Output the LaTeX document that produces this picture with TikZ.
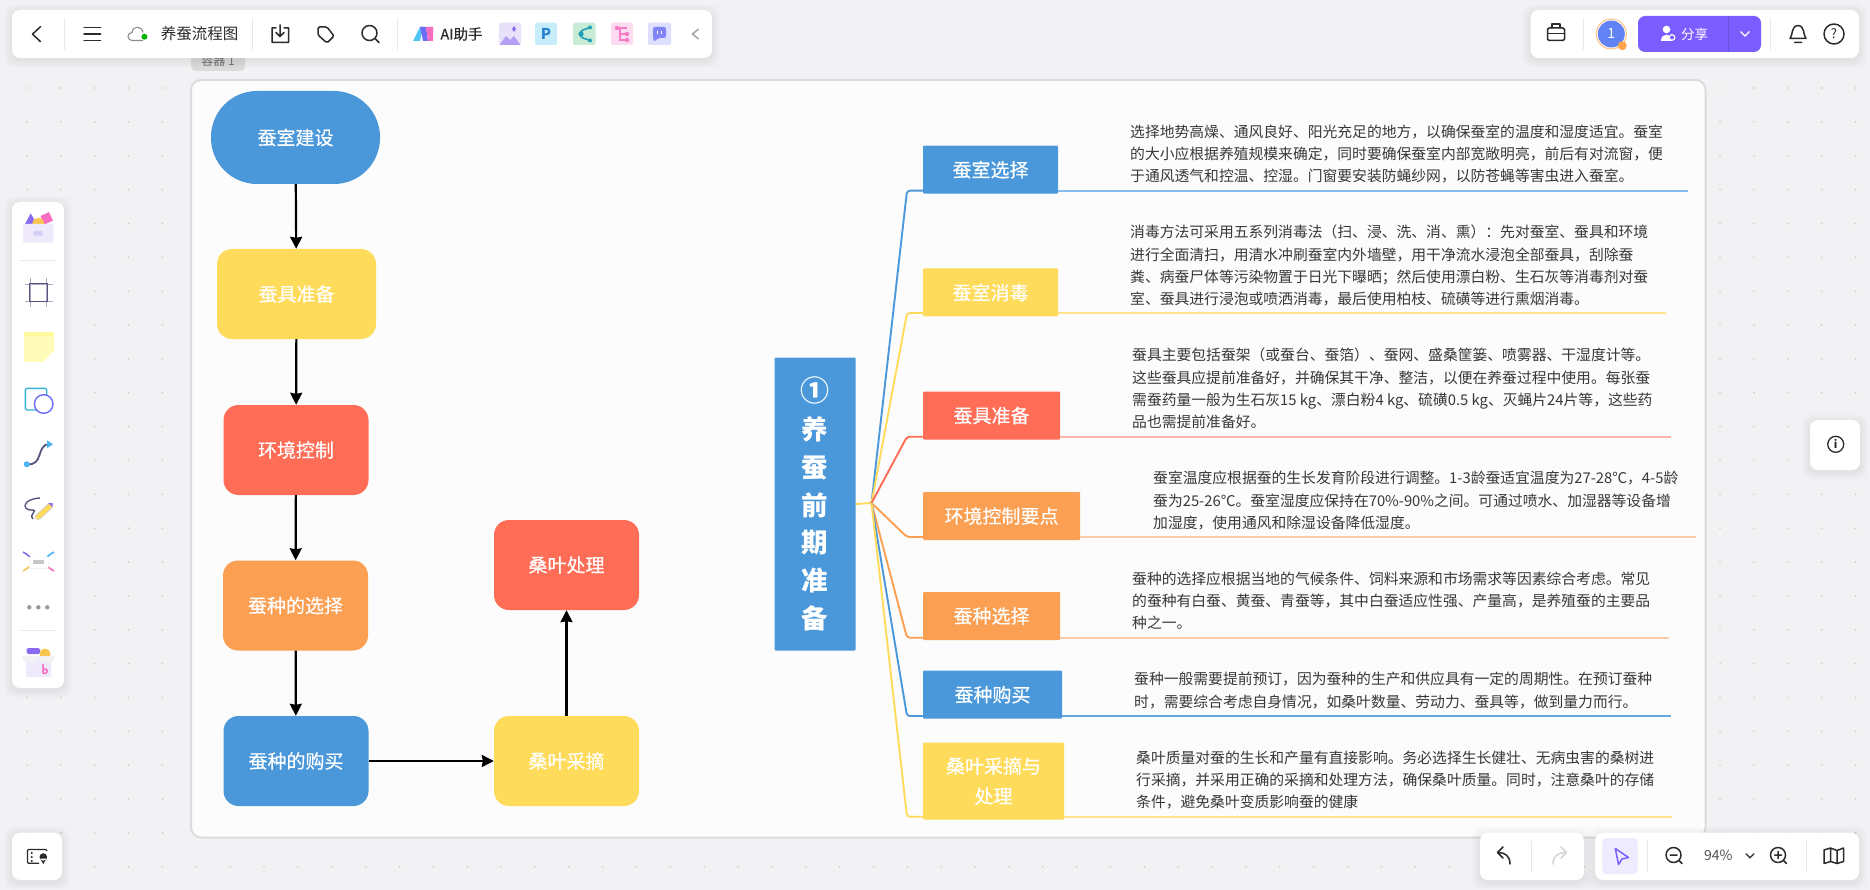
\documentclass[tikz,border=0pt]{standalone}
\usepackage{fontspec}
\setmainfont{Noto Sans CJK SC}
\newfontfamily\medfont[FakeBold=0.35]{Noto Sans CJK SC}
\usetikzlibrary{arrows.meta}
\definecolor{sblue}{HTML}{4A98DA}
\definecolor{syellow}{HTML}{FFDB5C}
\definecolor{sred}{HTML}{FF6D56}
\definecolor{sorange}{HTML}{FB9F53}
\definecolor{lblue}{HTML}{86BDEC}
\definecolor{lyellow}{HTML}{FFE38A}
\definecolor{lred}{HTML}{FFB5A9}
\definecolor{lorange}{HTML}{FDCBA5}
\definecolor{canvas}{HTML}{F2F2F4}
\definecolor{rim}{HTML}{DCDCDE}
\definecolor{sep}{HTML}{E8E8EA}
\definecolor{ink}{HTML}{2B2B2B}
\definecolor{share}{HTML}{7A5CFF}
\definecolor{lilac}{HTML}{8B6CF0}
\definecolor{lilacbox}{HTML}{EEEAFB}
\definecolor{lilacslot}{HTML}{D6CFF5}
\definecolor{rose}{HTML}{F56CC0}
\definecolor{gold}{HTML}{F8C54E}
\definecolor{slate}{HTML}{55557D}
\definecolor{mist}{HTML}{A9A9C6}
\definecolor{skyline}{HTML}{38B2D8}
\definecolor{ringblue}{HTML}{6B6EF5}
\definecolor{dotblue}{HTML}{4AB4F5}
\tikzset{
	flowbox/.style={rectangle, rounded corners=15, inner sep=0, text=white, font=\medfont\fontsize{19}{23}\selectfont},
	branch/.style={rectangle, rounded corners=1, inner sep=0, text=white, font=\medfont\fontsize{19}{30}\selectfont, align=center, minimum height=48},
	para/.style={anchor=west, inner sep=0, align=left, text=black!78, font=\fontsize{14.8}{22.3}\selectfont},
	flowline/.style={line width=2.2, -{Stealth[length=12,width=12,inset=1]}},
	fan/.style={line width=1.9, rounded corners=3},
	under/.style={line width=1.9},
	icon/.style={draw=ink, line width=1.5, line join=round, line cap=round},
	divide/.style={draw=sep, line width=1},
	tile/.style={rounded corners=2},
}
\newcommand{\softpanel}[5]{
	\foreach \g in {1,...,8}{
		\fill[black, opacity=.007, rounded corners=10] (#1-\g,#2-\g+2) rectangle (#3+\g,#4+\g+2);
	}
	\fill[white, rounded corners=#5] (#1,#2) rectangle (#3,#4);
}
\begin{document}
\begin{tikzpicture}[x=1pt,y=-1pt]
	\useasboundingbox (0,0) rectangle (1870,890);
	\fill[canvas] (0,0) rectangle (1870,890);
	\foreach \i in {0,...,54}{
		\foreach \j in {0,...,23}{
			\fill[black!20] (27+33.86*\i,88+33.86*\j) circle[radius=0.9];
		}
	}

	% container
	\fill[black!14, rounded corners=5] (191,50) rectangle (245,71);
	\node[text=black!55, font=\fontsize{12}{14}\selectfont, inner sep=0] (boxlabel) at (218,61) {容器 1};
	\draw[rim, fill=white!99!black, line width=2, rounded corners=10] (191,80) rectangle (1705.5,837.5);

	% flow chart
	\node[flowbox, rounded corners=46, fill=sblue, minimum width=169, minimum height=93] (build) at (295.5,137.5) {蚕室建设};
	\node[flowbox, fill=syellow, minimum width=159, minimum height=90] (tools) at (296.5,294) {蚕具准备};
	\node[flowbox, fill=sred, minimum width=145, minimum height=90] (climate) at (296,450) {环境控制};
	\node[flowbox, fill=sorange, minimum width=145, minimum height=90] (seedpick) at (295.5,605.5) {蚕种的选择};
	\node[flowbox, fill=sblue, minimum width=145, minimum height=90] (seedbuy) at (296,761) {蚕种的购买};
	\node[flowbox, fill=syellow, minimum width=145, minimum height=90] (pluck) at (566.5,761) {桑叶采摘};
	\node[flowbox, fill=sred, minimum width=145, minimum height=90] (treat) at (566.5,565) {桑叶处理};
	\draw[flowline] (build) -- (tools);
	\draw[flowline] (tools) -- (climate);
	\draw[flowline] (climate) -- (seedpick);
	\draw[flowline] (seedpick) -- (seedbuy);
	\draw[flowline] (seedbuy) -- (pluck);
	\draw[flowline] (pluck) -- (treat);

	% mind map
	\node[rectangle, rounded corners=1, fill=sblue, inner sep=0, minimum width=81, minimum height=293, text=white, align=center, font=\fontsize{26.5}{37.8}\bfseries\selectfont] (root) at (815,504) {\fontsize{29}{37.8}\selectfont ①\\养\\蚕\\前\\期\\准\\备};
	\coordinate (hub) at (871.5,503);
	\node[branch, fill=sblue, minimum width=135] (b1) at (990.5,169.7) {蚕室选择};
	\node[branch, fill=syellow, minimum width=135] (b2) at (990.5,292.5) {蚕室消毒};
	\node[branch, fill=sred, minimum width=137] (b3) at (991.5,415.5) {蚕具准备};
	\node[branch, fill=sorange, minimum width=157] (b4) at (1001.5,516) {环境控制要点};
	\node[branch, fill=sorange, minimum width=137] (b5) at (991.5,616) {蚕种选择};
	\node[branch, fill=sblue, minimum width=139] (b6) at (992.5,694.7) {蚕种购买};
	\node[branch, fill=syellow, minimum width=141, minimum height=77] (b7) at (993.5,781) {桑叶采摘与\\处理};
	\coordinate (u1) at (1688,190.7);
	\coordinate (u2) at (1666,313);
	\coordinate (u3) at (1671,436.7);
	\coordinate (u4) at (1696,537);
	\coordinate (u5) at (1669,637.7);
	\coordinate (u6) at (1670.5,716);
	\coordinate (u7) at (1672,816.7);
	\draw[fan, syellow] (root.east) -- (hub);
	\draw[fan, sblue] (hub) -- (907,190.7) -- (b1.west |- u1);
	\draw[fan, syellow] (hub) -- (907,313) -- (b2.west |- u2);
	\draw[fan, sred] (hub) -- (907,436.7) -- (b3.west |- u3);
	\draw[fan, sorange] (hub) -- (907,537) -- (b4.west |- u4);
	\draw[fan, sorange] (hub) -- (907,637.7) -- (b5.west |- u5);
	\draw[fan, sblue] (hub) -- (907,716) -- (b6.west |- u6);
	\draw[fan, syellow] (hub) -- (907,816.7) -- (b7.west |- u7);
	\draw[under, lblue] (b1.east |- u1) -- (u1);
	\draw[under, lyellow] (b2.east |- u2) -- (u2);
	\draw[under, lred] (b3.east |- u3) -- (u3);
	\draw[under, lorange] (b4.east |- u4) -- (u4);
	\draw[under, lorange] (b5.east |- u5) -- (u5);
	\draw[under, sblue!85!white] (b6.east |- u6) -- (u6);
	\draw[under, lyellow] (b7.east |- u7) -- (u7);

	\node[para] (t1) at (1130,154) {选择地势高燥、通风良好、阳光充足的地方，以确保蚕室的温度和湿度适宜。蚕室\\的大小应根据养殖规模来确定，同时要确保蚕室内部宽敞明亮，前后有对流窗，便\\于通风透气和控温、控湿。门窗要安装防蝇纱网，以防苍蝇等害虫进入蚕室。};
	\node[para] (t2) at (1130,265.8) {消毒方法可采用五系列消毒法（扫、浸、洗、消、熏）：先对蚕室、蚕具和环境\\进行全面清扫，用清水冲刷蚕室内外墙壁，用干净流水浸泡全部蚕具，刮除蚕\\粪、病蚕尸体等污染物置于日光下曝晒；然后使用漂白粉、生石灰等消毒剂对蚕\\室、蚕具进行浸泡或喷洒消毒，最后使用柏枝、硫磺等进行熏烟消毒。};
	\node[para] (t3) at (1132,388.5) {蚕具主要包括蚕架（或蚕台、蚕箔）、蚕网、盛桑筐篓、喷雾器、干湿度计等。\\这些蚕具应提前准备好，并确保其干净、整洁，以便在养蚕过程中使用。每张蚕\\需蚕药量一般为生石灰15 kg、漂白粉4 kg、硫磺0.5 kg、灭蝇片24片等，这些药\\品也需提前准备好。};
	\node[para] (t4) at (1153,500.7) {蚕室温度应根据蚕的生长发育阶段进行调整。1-3龄蚕适宜温度为27-28℃，4-5龄\\蚕为25-26℃。蚕室湿度应保持在70\%-90\%之间。可通过喷水、加湿器等设备增\\加湿度，使用通风和除湿设备降低湿度。};
	\node[para] (t5) at (1132,600.7) {蚕种的选择应根据当地的气候条件、饲料来源和市场需求等因素综合考虑。常见\\的蚕种有白蚕、黄蚕、青蚕等，其中白蚕适应性强、产量高，是养殖蚕的主要品\\种之一。};
	\node[para] (t6) at (1134,690.5) {蚕种一般需要提前预订，因为蚕种的生产和供应具有一定的周期性。在预订蚕种\\时，需要综合考虑自身情况，如桑叶数量、劳动力、蚕具等，做到量力而行。};
	\node[para] (t7) at (1136,780) {桑叶质量对蚕的生长和产量有直接影响。务必选择生长健壮、无病虫害的桑树进\\行采摘，并采用正确的采摘和处理方法，确保桑叶质量。同时，注意桑叶的存储\\条件，避免桑叶变质影响蚕的健康};

	% top bar, left part
	\softpanel{12}{10}{712}{58}{8}
	\draw[icon] (40.5,26.7) -- (32.5,34.2) -- (40.5,41.7);
	\draw[divide] (64.7,18) -- (64.7,50);
	\draw[icon] (84,27.7) -- (100.5,27.7) (84,34) -- (100.5,34) (84,40.7) -- (100.5,40.7);
	\draw[black!45, line width=1.1] (143,40.5) -- (133,40.5) .. controls (126.5,40.5) and (126.5,33) .. (132,32.5) .. controls (133,25) and (142,26) .. (143,32.5);
	\fill[green!70!black] (144.4,36.7) circle[radius=3];
	\node[text=ink, inner sep=0, font=\fontsize{15.5}{18}\selectfont] (title) at (199.5,33.5) {养蚕流程图};
	\draw[divide] (252.5,18) -- (252.5,50);
	\draw[icon] (276,28) -- (272,28) -- (272,42.5) -- (288.5,42.5) -- (288.5,28) -- (284,28) (280,25) -- (280,36.5) (276,32.5) -- (280,36.5) -- (284,32.5);
	\draw[icon, rounded corners=1.5] (318,27) -- (327,27) -- (334,36) -- (327,43) -- (318,35) -- cycle;
	\draw[icon] (369.5,33) circle[radius=7.5] (375,38.5) -- (379,42.5);
	\draw[divide] (397,18) -- (397,50);
	\fill[cyan!70!white] (413,41) -- (420,27) -- (423,27) -- (420,41) -- cycle;
	\fill[ringblue] (420,27) -- (426,27) -- (428,41) -- (423,41) -- cycle;
	\fill[rose] (426,27) -- (433,27) -- (433,41) -- (428,41) -- cycle;
	\node[text=ink, inner sep=0, font=\medfont\fontsize{14.5}{18}\selectfont] (aihelp) at (461.5,34) {AI助手};
	\fill[tile, lilacbox!70!lilacslot] (499,22.7) rectangle (521,45);
	\fill[lilac!65!white] (499.5,45) -- (506,36) -- (510,40) -- (514,36) -- (520.5,45) -- cycle;
	\fill[lilac] (514,26) -- (516,29) -- (514,32) -- (512,29) -- cycle;
	\fill[tile, cyan!22!white] (535,22.7) rectangle (557,45);
	\node[text=cyan!60!blue!90!white, inner sep=0, font=\fontsize{15}{18}\bfseries\selectfont] (ptile) at (546,34) {P};
	\fill[tile, cyan!25!green!22!white] (573,22.7) rectangle (595.5,45);
	\draw[cyan!80!green!85!black, line width=1.6] (590,27.5) -- (583,30) .. controls (579,32) and (579,36) .. (583,38) -- (590,40.5);
	\fill[cyan!80!green!85!black] (581,34) circle[radius=2.6] (590,27.5) circle[radius=2] (590,40.5) circle[radius=2];
	\fill[tile, rose!25!white] (611,22.7) rectangle (633,45);
	\draw[rose!90!white, line width=1.2] (617,28) -- (627,28) (620,28) -- (620,40) -- (627,40) (620,34) -- (627,34);
	\fill[rose!90!white] (617,28) circle[radius=2.2] (627,34) circle[radius=2.2] (627,40) circle[radius=2.2];
	\fill[tile, ringblue!22!white] (648,22.7) rectangle (671,45);
	\fill[ringblue!85!white, rounded corners=2] (653,27) -- (666,27) -- (666,38) -- (658,38) -- (654,42) -- (653,38) -- cycle;
	\draw[white, line width=1.2] (657.5,31) -- (657.5,34) (661.5,31) -- (661.5,34);
	\draw[black!40, line width=1.3] (698.5,29) -- (692.5,34) -- (698.5,39);

	% top bar, right part
	\softpanel{1530.7}{10}{1859}{58}{8}
	\draw[icon, rounded corners=1.5] (1547.5,28) rectangle (1564.5,40.5);
	\draw[icon] (1547.5,33.5) -- (1564.5,33.5) (1552,28) -- (1552,24) -- (1560,24) -- (1560,28);
	\draw[divide] (1583.3,18) -- (1583.3,50);
	\fill[ringblue!70!dotblue] (1611.3,34) circle[radius=13.5];
	\draw[orange!50!white, line width=1] (1611.3,34) circle[radius=15];
	\node[text=white, inner sep=0, font=\fontsize{14}{16}\selectfont] (badge) at (1611.3,34) {1};
	\fill[orange!70!white] (1622.3,45.7) circle[radius=4.5];
	\fill[share, rounded corners=7] (1638,16) rectangle (1761,52);
	\draw[black!12!share, line width=.8] (1728.3,16) -- (1728.3,52);
	\fill[white] (1666.5,29.5) circle[radius=3.8] (1661,41) .. controls (1661,32.5) and (1672,32.5) .. (1672,41) -- cycle;
	\draw[white, fill=share, line width=1.2] (1672,37.5) circle[radius=2.8];
	\node[text=white, inner sep=0, font=\fontsize{13.5}{16}\selectfont] (sharetext) at (1694.7,34) {分享};
	\draw[white, line width=1.3] (1740.5,31.5) -- (1745,36) -- (1749.5,31.5);
	\draw[divide] (1770.3,18) -- (1770.3,50);
	\draw[icon] (1790,38.5) .. controls (1793,35) and (1791,26) .. (1798,25.5) .. controls (1805,26) and (1803,35) .. (1806,38.5) -- cycle (1794.5,42.5) -- (1801.5,42.5);
	\draw[icon] (1834,34) circle[radius=10];
	\node[text=ink, inner sep=0, font=\fontsize{13}{15}\selectfont] (helpmark) at (1834,34) {?};

	% left bar
	\softpanel{12}{202}{64}{688}{8}
	\fill[lilac] (30.7,213.3) -- (38,226) -- (24,226) -- cycle;
	\fill[rose, rotate around={25:(46.7,218.3)}] (42,213.6) rectangle (51.4,223);
	\fill[gold] (38.3,224) circle[radius=6];
	\fill[lilacbox, rounded corners=2] (23,224) rectangle (53.3,242.7);
	\fill[lilacslot, rounded corners=1] (33.3,231) rectangle (42.7,235.7);
	\draw[divide] (20,260.7) -- (56,260.7);
	\draw[mist, line width=1.3] (30.3,278.3) -- (30.3,306.7) (46.3,278.3) -- (46.3,306.7) (25,284.3) -- (52.7,284.3) (25,301.7) -- (52.7,301.7);
	\draw[slate, line width=1.6] (29.5,283.5) rectangle (47.5,301.5);
	\fill[yellow!28!white] (23.5,332) rectangle (53.5,361.5);
	\fill[yellow!40!white] (23.5,332) rectangle (53.5,336.5);
	\fill[white] (53.8,351) -- (43.5,361.8) -- (53.8,361.8) -- cycle;
	\draw[skyline, line width=1.4, rounded corners=1.5] (25.3,388.3) rectangle (46.7,410);
	\draw[ringblue, fill=white, line width=1.4] (43.7,404) circle[radius=9.3];
	\draw[slate, line width=1.8] (26.7,464.3) .. controls (44,466) and (36,445) .. (49,444);
	\fill[dotblue] (26.7,464.3) circle[radius=3] (47,440.3) -- (53,444.3) -- (47,448.3) -- cycle;
	\draw[slate, line width=1.4] (40,498) .. controls (22,499) and (22,510) .. (31,510) .. controls (40,510) and (28,514) .. (33,519);
	\draw[black!20, line width=6, line cap=round] (38,517) -- (50,506);
	\draw[syellow, line width=4.4, line cap=round] (38,517) -- (50,506);
	\fill[lilac] (48,503) -- (52.5,503) -- (52.5,507) -- cycle;
	\draw[lilac, line width=1.6] (23,552) .. controls (25,553) and (28,555) .. (30,557);
	\draw[dotblue, line width=1.6] (54,552) .. controls (52,553) and (49,555) .. (47,557);
	\draw[gold, line width=1.6] (23,571) .. controls (25,570) and (28,568) .. (30,566);
	\draw[rose, line width=1.6] (54,571) .. controls (52,570) and (49,568) .. (47,566);
	\fill[black!5, rounded corners=2] (29,556.5) rectangle (48.7,569);
	\fill[white, rounded corners=2] (29.5,556.5) rectangle (48.2,568);
	\fill[black!22] (33.3,560) rectangle (44.3,564.3);
	\fill[black!40] (29.3,607.3) circle[radius=2.2] (38.3,607.3) circle[radius=2.2] (47.3,607.3) circle[radius=2.2];
	\draw[divide] (20,630) -- (56,630);
	\fill[lilac, rounded corners=1.5] (26.7,648) rectangle (40,654);
	\fill[gold] (45,654) circle[radius=5.5];
	\fill[lilacbox, rounded corners=1.5] (26,657) rectangle (51,677);
	\fill[black!5] (22,656) -- (38,656) -- (36,662) -- (24,662) -- cycle (38,656) -- (55,656) -- (53,662) -- (40,662) -- cycle;
	\draw[rose, line width=1.5] (43,664) -- (43,673) .. controls (46,675) and (49,671) .. (46,669) -- (43,670);

	% bottom and side panels
	\softpanel{12}{832.7}{62}{880}{8}
	\draw[ink, line width=1.3, rounded corners=1] (46.7,851) -- (46.7,849.5) -- (27.5,849.5) -- (27.5,863.3) -- (39,863.3);
	\fill[ink] (31.7,853) circle[radius=1.1] (31.7,857) circle[radius=1.1] (31.7,861) circle[radius=1.1] (43.3,857) circle[radius=3.8] (40,858.5) -- (43.3,864) -- (46.6,858.5) -- cycle;
	\softpanel{1810}{420}{1860}{470}{8}
	\draw[ink, line width=1.3] (1835.7,444.3) circle[radius=8];
	\node[text=ink, inner sep=0, font=\fontsize{11}{13}\bfseries\selectfont] (infomark) at (1835.7,444.3) {i};
	\softpanel{1480}{832.7}{1584}{880}{8}
	\draw[icon] (1510,864) .. controls (1510,856) and (1505,852.5) .. (1498,852.5) (1503,847) -- (1497.5,852.5) -- (1503,858);
	\draw[divide] (1531.7,841) -- (1531.7,872);
	\draw[icon, draw=black!17] (1553,864) .. controls (1553,856) and (1558,852.5) .. (1566,852.5) (1561,847) -- (1566.5,852.5) -- (1561,858);
	\softpanel{1595}{832.7}{1859}{880}{8}
	\fill[share!12!white, rounded corners=4] (1602.3,838) rectangle (1637.7,874);
	\draw[share, line width=1.5, line join=round] (1615.3,848.5) -- (1628.5,857.5) -- (1622,859) -- (1618.5,864.5) -- cycle;
	\draw[divide] (1647.3,841) -- (1647.3,872);
	\draw[icon] (1673.5,855) circle[radius=7.5] (1679,860.5) -- (1682,863.5) (1670,855) -- (1677,855);
	\node[text=black!68, inner sep=0, font=\fontsize{14}{16}\selectfont] (zoomlevel) at (1718.3,855.7) {94\%};
	\draw[ink, line width=1.2, line cap=round] (1746,853.7) -- (1750,857.7) -- (1754,853.7);
	\draw[icon] (1778,855) circle[radius=7.5] (1783.5,860.5) -- (1786.5,863.5) (1774.5,855) -- (1781.5,855) (1778,851.5) -- (1778,858.5);
	\draw[divide] (1806.7,841) -- (1806.7,872);
	\draw[icon] (1824,850) -- (1830.5,848) -- (1837,850.5) -- (1843.5,848) -- (1843.5,861.5) -- (1837,863.5) -- (1830.5,861.5) -- (1824,863.5) -- cycle (1830.5,848) -- (1830.5,861.5) (1837,850.5) -- (1837,863.5);
\end{tikzpicture}
\end{document}
